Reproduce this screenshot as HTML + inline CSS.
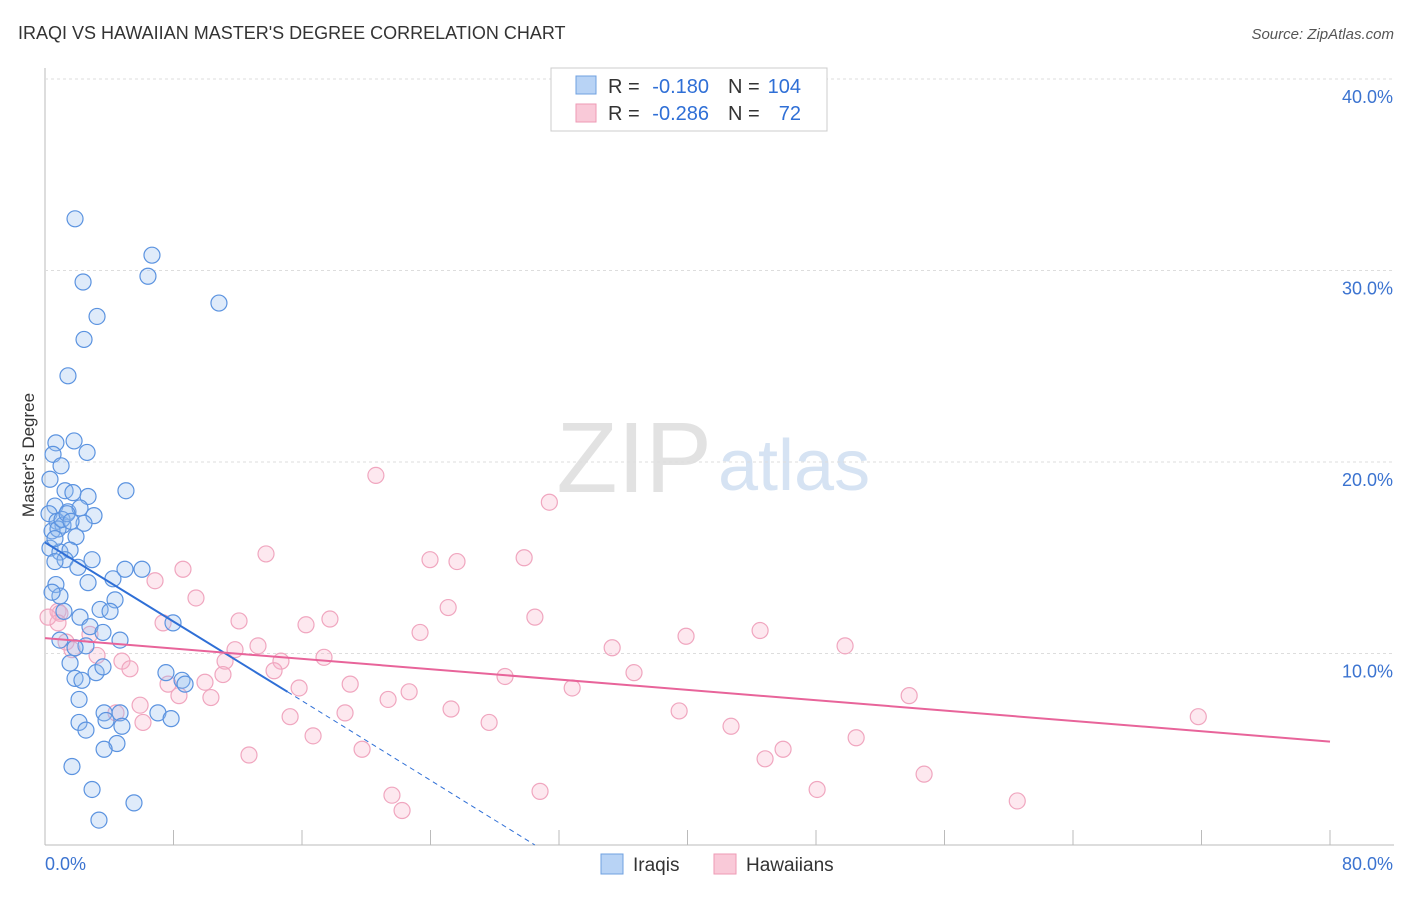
<!DOCTYPE html>
<html><head><meta charset="utf-8"><style>
body{margin:0;background:#fff;font-family:"Liberation Sans",sans-serif}
svg text{font-family:"Liberation Sans",sans-serif}
</style></head><body>
<svg id="c" width="1406" height="892">
<text x="18" y="39" font-size="18" fill="#333">IRAQI VS HAWAIIAN MASTER'S DEGREE CORRELATION CHART</text>
<text x="1394" y="39" font-size="15" fill="#555" font-style="italic" text-anchor="end">Source: ZipAtlas.com</text>
<text x="712" y="492" font-size="100" fill="#e2e2e2" font-family="Liberation Serif" text-anchor="end">ZIP</text>
<text x="718" y="490" font-size="72" fill="#d6e3f3">atlas</text>
<text transform="translate(34,455) rotate(-90)" font-size="17" fill="#333" text-anchor="middle">Master's Degree</text>
<g id="grid"></g><g id="pts"></g><g id="lines"></g>
<g>
<rect x="551" y="68" width="276" height="63" fill="#fff" stroke="#ccc"/>
<rect x="576" y="76" width="20" height="18" fill="#b8d3f5" stroke="#6fa0e0"/>
<rect x="576" y="104" width="20" height="18" fill="#f9c9d8" stroke="#ee9ab5"/>
<text x="608" y="93" font-size="20" fill="#333">R =</text>
<text x="709" y="93" font-size="20" fill="#2f6fd6" text-anchor="end">-0.180</text>
<text x="728" y="93" font-size="20" fill="#333">N =</text>
<text x="801" y="93" font-size="20" fill="#2f6fd6" text-anchor="end">104</text>
<text x="608" y="120" font-size="20" fill="#333">R =</text>
<text x="709" y="120" font-size="20" fill="#2f6fd6" text-anchor="end">-0.286</text>
<text x="728" y="120" font-size="20" fill="#333">N =</text>
<text x="801" y="120" font-size="20" fill="#2f6fd6" text-anchor="end">72</text>
</g>
<g>
<rect x="601" y="854" width="22" height="20" fill="#b8d3f5" stroke="#6fa0e0"/>
<text x="633" y="871" font-size="19" fill="#333">Iraqis</text>
<rect x="714" y="854" width="22" height="20" fill="#f9c9d8" stroke="#ee9ab5"/>
<text x="746" y="871" font-size="19" fill="#333">Hawaiians</text>
</g>
</svg>
<script>
const yTicks=[10,20,30,40];
const xTickLabels=["0.0%","80.0%"];
const iraqiX=[1.87,6.66,2.37,6.41,10.83,3.24,2.43,1.43,0.68,1.81,2.62,0.5,1.0,0.31,1.25,1.74,2.68,5.04,0.62,1.43,2.18,3.05,0.25,0.75,1.12,2.43,0.44,1.93,0.31,0.93,1.56,1.25,2.05,0.62,2.68,4.23,4.98,6.04,0.68,0.93,0.44,4.36,1.18,2.18,3.43,4.05,7.97,2.8,0.93,3.61,4.67,2.55,1.87,1.56,1.87,3.18,3.61,2.3,7.53,8.53,8.72,2.12,7.03,3.68,4.67,7.85,2.12,2.55,3.8,4.79,4.48,3.68,1.68,2.93,5.54,3.36,0.81,1.06,1.37,1.62,0.62,2.93];
const iraqiY=[32.7,30.8,29.4,29.7,28.3,27.6,26.4,24.5,21.0,21.1,20.5,20.4,19.8,19.1,18.5,18.4,18.2,18.5,17.7,17.4,17.6,17.2,17.3,16.9,16.7,16.8,16.4,16.1,15.5,15.3,15.4,14.9,14.5,14.8,13.7,13.9,14.4,14.4,13.6,13.0,13.2,12.8,12.2,11.9,12.3,12.2,11.6,11.4,10.7,11.1,10.7,10.4,10.3,9.5,8.7,9.0,9.3,8.6,9.0,8.6,8.4,7.6,6.9,6.9,6.9,6.6,6.4,6.0,6.5,6.2,5.3,5.0,4.1,2.9,2.2,1.3,16.5,17.0,17.3,16.9,16.0,14.9];
const hawX=[20.6,31.4,13.76,23.97,25.65,29.83,8.59,6.85,9.4,0.81,25.1,30.5,17.74,16.25,12.08,7.35,23.35,39.91,44.52,49.81,35.31,1.31,2.8,3.24,1.68,11.83,13.26,11.21,11.08,14.69,17.37,4.79,5.29,14.26,28.64,36.67,19.0,22.67,32.82,7.66,8.34,10.33,9.96,15.82,21.36,53.8,5.92,4.42,25.28,15.26,18.68,27.65,39.48,71.8,42.71,6.1,16.69,50.5,45.95,12.7,19.74,44.83,54.73,30.82,48.07,21.6,60.53,22.23,0.93,0.81,0.19];
const hawY=[19.3,17.9,15.2,14.9,14.8,15.0,14.4,13.8,12.9,12.2,12.4,11.9,11.8,11.5,11.7,11.6,11.1,10.9,11.2,10.4,10.3,10.6,11.0,9.9,10.2,10.2,10.4,9.6,8.9,9.6,9.8,9.6,9.2,9.1,8.8,9.0,8.4,8.0,8.2,8.4,7.8,7.7,8.5,8.2,7.6,7.8,7.3,6.9,7.1,6.7,6.9,6.4,7.0,6.7,6.2,6.4,5.7,5.6,5.0,4.7,5.0,4.5,3.7,2.8,2.9,2.6,2.3,1.8,12.1,11.6,11.9];
const iraqiTrend=[[0,15.8],[15.1,8.0]];
const iraqiDash=[[15.1,8.0],[30.5,0]];
const hawTrend=[[0,10.8],[80,5.4]];
const NS="http://www.w3.org/2000/svg";
const X=v=>45+v*(1285/80), Y=v=>845-v*19.15;
const grid=document.getElementById('grid');
function mk(t,a,p){const e=document.createElementNS(NS,t);for(const k in a)e.setAttribute(k,a[k]);p.appendChild(e);return e;}
let ax=mk('line',{x1:45,y1:845,x2:1394,y2:845,stroke:'#bbb'},grid);


let ay=mk('line',{x1:45,y1:68,x2:45,y2:845,stroke:'#bbb'},grid);


for(let i=1;i<=10;i++){let t=mk('line',{x1:X(i*8),x2:X(i*8),y1:830,y2:845,stroke:'#bbb'},grid);

}
yTicks.forEach(v=>{let g=mk('line',{x1:45,x2:1394,y1:Y(v),y2:Y(v),stroke:'#ddd','stroke-dasharray':'3,3'},grid);


let t=mk('text',{x:1393,y:Y(v)+24,'font-size':18,fill:'#3b73d0','text-anchor':'end'},grid);t.textContent=v.toFixed(1)+'%';

});
let xl=mk('text',{x:45,y:870,'font-size':18,fill:'#3b73d0'},grid);xl.textContent=xTickLabels[0];


let xr=mk('text',{x:1393,y:870,'font-size':18,fill:'#3b73d0','text-anchor':'end'},grid);xr.textContent=xTickLabels[1];


const pts=document.getElementById('pts');
hawX.forEach((x,i)=>{let c=mk('circle',{cx:X(x),cy:Y(hawY[i]),r:8,fill:'rgba(247,180,202,0.3)',stroke:'#f0a6bf','stroke-width':1.2},pts);

});
iraqiX.forEach((x,i)=>{let c=mk('circle',{cx:X(x),cy:Y(iraqiY[i]),r:8,fill:'rgba(150,190,240,0.3)',stroke:'#5b93e0','stroke-width':1.2},pts);

});
const L=document.getElementById('lines');
let l1=mk('line',{x1:X(iraqiTrend[0][0]),y1:Y(iraqiTrend[0][1]),x2:X(iraqiTrend[1][0]),y2:Y(iraqiTrend[1][1]),stroke:'#2f6fd6','stroke-width':2},L);


let l2=mk('line',{x1:X(iraqiDash[0][0]),y1:Y(iraqiDash[0][1]),x2:X(iraqiDash[1][0]),y2:Y(iraqiDash[1][1]),stroke:'#2f6fd6','stroke-width':1,'stroke-dasharray':'5,4'},L);


let l3=mk('line',{x1:X(hawTrend[0][0]),y1:Y(hawTrend[0][1]),x2:X(hawTrend[1][0]),y2:Y(hawTrend[1][1]),stroke:'#e8649a','stroke-width':2},L);


</script>
</body></html>
